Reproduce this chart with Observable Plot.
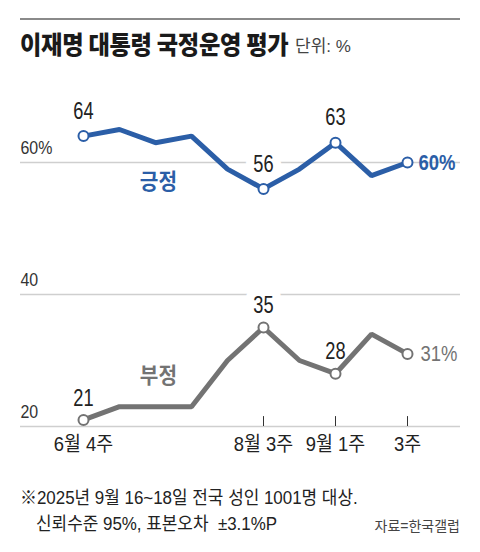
<!DOCTYPE html>
<html>
<head>
<meta charset="utf-8">
<script src="https://cdn.jsdelivr.net/npm/d3@7"></script>
<script src="https://cdn.jsdelivr.net/npm/@observablehq/plot@0.6"></script>
<style>
  html, body { margin: 0; padding: 0; background: #fff; }
  body { width: 480px; height: 552px; position: relative; overflow: hidden;
         font-family: 'Liberation Sans', 'Noto Sans CJK KR', sans-serif; color: #222; }
  #rule { position: absolute; left: 20px; top: 18px; width: 440px; height: 2px; background: #8a8a8a; }
  #title { position: absolute; left: 20px; top: 25px; white-space: nowrap; transform: scaleX(0.93); transform-origin: left center;
           font-family: 'Noto Sans CJK KR', sans-serif; font-weight: 900; font-size: 25px; color: #1a1a1a; letter-spacing: -0.3px; }
  #unit { position: absolute; left: 295px; top: 32px; white-space: nowrap; font-size: 17px; color: #444; }
  #chart { position: absolute; left: 0; top: 70px; }
  .cap { position: absolute; white-space: pre; font-size: 18px; color: #222; transform: scaleX(0.94); transform-origin: left center; }
  #src { position: absolute; right: 20px; top: 515px; font-size: 14px; color: #444; white-space: nowrap; }
</style>
</head>
<body>
<div id="rule"></div>
<div id="title">이재명 대통령 국정운영 평가</div>
<div id="unit">단위: %</div>
<div id="chart"></div>
<div class="cap" style="left:20px; top:483px;">※2025년 9월 16~18일 전국 성인 1001명 대상.</div>
<div class="cap" style="left:36px; top:509px;">신뢰수준 95%, 표본오차  ±3.1%P</div>
<div id="src">자료=한국갤럽</div>
<script>
// ---- data ----
const weekIndex = [0, 1, 2, 3, 4, 5, 6, 7, 8, 9];
const positive = [64, 65, 63, 64, 59, 56, 59, 63, 58, 60];
const negative = [21, 23, 23, 23, 30, 35, 30, 28, 34, 31];
const labeledIdx = [0, 5, 7];          // points with value labels above
const markedIdx = [0, 5, 7, 9];        // points with hollow circle
const tickIdx = [0, 5, 7, 9];
const tickLabels = ["6월 4주", "8월 3주", "9월 1주", "3주"];
const tickMarkIdx = [5, 7, 9];
const yTicks = [60, 40, 20];
const yTickLabels = ["60%", "40", "20"];
const seriesNames = ["긍정", "부정"];

const BLUE = "#2b5ea7";
const GRAY = "#737373";
const FONT = "'Liberation Sans', 'Noto Sans CJK KR', sans-serif";
const KR = "'Noto Sans CJK KR', sans-serif";

const pos = weekIndex.map(i => ({i, v: positive[i]}));
const neg = weekIndex.map(i => ({i, v: negative[i]}));
const posLab = labeledIdx.map(i => ({i, v: positive[i]}));
const negLab = labeledIdx.map(i => ({i, v: negative[i]}));
const posMk = markedIdx.map(i => ({i, v: positive[i]}));
const negMk = markedIdx.map(i => ({i, v: negative[i]}));
const last = weekIndex.length - 1;

const VAL_SIZE = 24;
const valueLabel = (data, dy, halo) => Plot.text(data, {
  x: "i", y: "v", text: d => String(d.v), dy, fontSize: VAL_SIZE,
  fill: halo ? "white" : "#222", stroke: halo ? "white" : "none", strokeWidth: halo ? 22 : 0
});

const chart = Plot.plot({
  width: 480,
  height: 400,
  marginLeft: 20,
  marginRight: 20,
  marginTop: 0,
  marginBottom: 0,
  style: {fontFamily: FONT, background: "transparent", overflow: "visible"},
  x: {type: "linear", domain: [0, 9], range: [83, 407], axis: null},
  y: {domain: [20, 60], range: [356, 92], axis: null},
  marks: [
    Plot.ruleY(yTicks, {y: d => d, stroke: "#cfcfcf", strokeWidth: 1.5}),
    Plot.text(yTicks, {y: d => d, text: (d, k) => yTickLabels[k], frameAnchor: "left", textAnchor: "start",
      dy: -15, fontSize: 19, fill: "#333"}),
    Plot.ruleX(tickMarkIdx, {x: d => d, y1: 20, y2: 21.5, stroke: "#333", strokeWidth: 1}),
    Plot.text(tickIdx, {x: d => d, y: 20, text: (d, k) => tickLabels[k], dy: 18, fontSize: 20, fill: "#222"}),
    // white halos behind value labels (break the gridlines only)
    valueLabel(posLab, -25, true),
    valueLabel(negLab, -22, true),
    // lines
    Plot.line(pos, {x: "i", y: "v", stroke: BLUE, strokeWidth: 5, strokeLinejoin: "miter"}),
    Plot.line(neg, {x: "i", y: "v", stroke: GRAY, strokeWidth: 5, strokeLinejoin: "miter"}),
    Plot.dot(posMk, {x: "i", y: "v", r: 5, fill: "white", stroke: BLUE, strokeWidth: 2}),
    Plot.dot(negMk, {x: "i", y: "v", r: 5, fill: "white", stroke: GRAY, strokeWidth: 2}),
    // value labels
    valueLabel(posLab, -25, false),
    valueLabel(negLab, -22, false),
    Plot.text([pos[last]], {x: "i", y: "v", text: d => d.v + "%", dx: 11, textAnchor: "start",
      fontSize: 22, fontWeight: "bold", fill: BLUE}),
    Plot.text([neg[last]], {x: "i", y: "v", text: d => d.v + "%", dx: 13, textAnchor: "start",
      fontSize: 22, fill: GRAY}),
    // series names
    Plot.text([seriesNames[0]], {x: 2.08, y: 57.1, text: d => d, fontSize: 22, fontWeight: "bold",
      fill: BLUE, fontFamily: KR}),
    Plot.text([seriesNames[1]], {x: 2.08, y: 27.7, text: d => d, fontSize: 22, fontWeight: "bold",
      fill: GRAY, fontFamily: KR})
  ]
});
// condense the lettering like the reference's narrow typeface
chart.querySelectorAll("text").forEach(t => {
  const g = t.closest("g");
  const size = g ? +g.getAttribute("font-size") : 0;
  const s = size === VAL_SIZE ? 0.76 : (/[\uac00-\ud7a3]/.test(t.textContent) ? 0.92 : 0.84);
  const tr = t.getAttribute("transform") || "";
  t.setAttribute("transform", (tr + ` scale(${s},1)`).trim());
});
document.getElementById("chart").appendChild(chart);
</script>
</body>
</html>
